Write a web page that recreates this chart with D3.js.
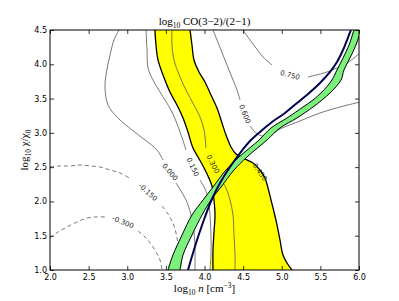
<!DOCTYPE html>
<html>
<head>
<meta charset="utf-8">
<script src="https://cdn.jsdelivr.net/npm/d3@7"></script>
<style>
  body { margin: 0; background: #fff; }
  svg { display: block; }
</style>
</head>
<body>
<div id="d3"></div>
<script>
// axis ticks
const xTicks = [2.0, 2.5, 3.0, 3.5, 4.0, 4.5, 5.0, 5.5, 6.0];
const yTicks = [1.0, 1.5, 2.0, 2.5, 3.0, 3.5, 4.0, 4.5];

// contour lines, [log n, log chi], split where the label sits
const cM300 = [
    [[2.000, 1.467], [2.104, 1.554], [2.220, 1.627], [2.350, 1.700], [2.479, 1.758], [2.583, 1.773], [2.725, 1.773]],
    [[3.139, 1.569], [3.230, 1.481], [3.307, 1.379], [3.372, 1.263], [3.424, 1.146], [3.450, 1.000]]
];
const cM150 = [
    [[2.000, 2.502], [2.129, 2.517], [2.259, 2.517], [2.388, 2.531], [2.518, 2.517], [2.647, 2.502], [2.777, 2.458], [2.906, 2.415], [3.049, 2.327]],
    [[3.450, 1.933], [3.528, 1.817], [3.592, 1.685], [3.631, 1.540], [3.657, 1.365], [3.670, 1.175], [3.683, 1.000]]
];
const c000 = [
    [[2.893, 4.500], [2.828, 4.354], [2.777, 4.135], [2.725, 3.844], [2.712, 3.654], [2.751, 3.406], [2.880, 3.217], [3.061, 3.042], [3.230, 2.896], [3.385, 2.750], [3.463, 2.604]],
    [[3.631, 2.269], [3.761, 2.021], [3.825, 1.802], [3.864, 1.554], [3.877, 1.292], [3.877, 1.000]]
];
const c150 = [
    [[3.243, 4.500], [3.256, 4.208], [3.269, 3.946], [3.333, 3.771], [3.424, 3.596], [3.579, 3.304], [3.683, 3.013], [3.761, 2.750]],
    [[3.942, 2.313], [3.994, 2.210], [4.045, 2.065], [4.071, 1.802], [4.084, 1.510], [4.084, 1.219], [4.071, 1.000]]
];
const c300 = [
    [[3.579, 4.500], [3.579, 4.281], [3.605, 4.063], [3.683, 3.815], [3.773, 3.596], [3.864, 3.406], [3.942, 3.231], [3.994, 3.042], [4.019, 2.779]],
    [[4.201, 2.342], [4.278, 2.196], [4.330, 2.021], [4.369, 1.802], [4.382, 1.510], [4.395, 1.219], [4.395, 1.000]]
];
const c600 = [
    [[4.110, 4.500], [4.188, 4.281], [4.265, 4.063], [4.343, 3.844], [4.421, 3.625], [4.460, 3.479]],
    [[4.589, 3.100], [4.654, 3.013], [4.744, 2.954], [4.848, 2.969], [4.977, 3.056], [5.236, 3.173], [5.495, 3.290], [5.754, 3.377], [6.013, 3.450]]
];
const c750 = [
    [[4.498, 4.500], [4.589, 4.354], [4.667, 4.237], [4.757, 4.106], [4.874, 3.990]],
    [[5.340, 3.815], [5.586, 3.888], [5.845, 4.019], [6.013, 4.165]]
];

// contour label text, place and slant
const labelText = ["-0.300", "-0.150", "0.000", "0.150", "0.300", "0.450", "0.600", "0.750"];
const labelPos = [[2.945, 1.700], [3.269, 2.137], [3.553, 2.429], [3.851, 2.502], [4.110, 2.546], [4.718, 2.429], [4.524, 3.275], [5.107, 3.844]];
const labelAngle = [22, 42, 50, 65, 62, 55, 68, 15];

// yellow band edges (the right edge is the 0.450 contour)
const yellowLeft = [[3.359, 4.500], [3.372, 4.281], [3.398, 4.063], [3.463, 3.844], [3.553, 3.596], [3.644, 3.406], [3.722, 3.217], [3.786, 3.013], [3.851, 2.779], [3.916, 2.648], [3.981, 2.517], [4.045, 2.371], [4.097, 2.225], [4.123, 2.021], [4.136, 1.802], [4.123, 1.554], [4.110, 1.292], [4.110, 1.000]];
const yellowRight = [[3.812, 4.500], [3.838, 4.281], [3.864, 4.063], [3.929, 3.888], [4.006, 3.742], [4.084, 3.552], [4.162, 3.363], [4.214, 3.188], [4.278, 2.969], [4.343, 2.794], [4.408, 2.692], [4.498, 2.633], [4.628, 2.560], [4.718, 2.458], [4.783, 2.342], [4.822, 2.196], [4.861, 2.021], [4.900, 1.846], [4.939, 1.656], [4.977, 1.438], [5.016, 1.219], [5.068, 1.102], [5.133, 1.000]];

// green band edges
const greenLeft = [[5.935, 4.500], [5.871, 4.281], [5.793, 4.092], [5.715, 3.917], [5.650, 3.771], [5.521, 3.596], [5.405, 3.479], [5.275, 3.377], [5.068, 3.217], [4.861, 3.071], [4.706, 2.896], [4.447, 2.648], [4.278, 2.458], [4.110, 2.210], [3.981, 2.021], [3.838, 1.802], [3.709, 1.510], [3.592, 1.219], [3.528, 1.000]];
const greenRight = [[6.026, 4.500], [5.961, 4.281], [5.883, 4.092], [5.806, 3.917], [5.767, 3.771], [5.638, 3.596], [5.521, 3.479], [5.405, 3.377], [5.197, 3.217], [4.977, 3.071], [4.809, 2.896], [4.550, 2.648], [4.382, 2.458], [4.214, 2.210], [4.084, 2.021], [3.968, 1.802], [3.838, 1.510], [3.722, 1.219], [3.683, 1.000]];

// navy curve
const navyLine = [[5.896, 4.500], [5.845, 4.354], [5.793, 4.208], [5.715, 4.033], [5.625, 3.888], [5.495, 3.727], [5.340, 3.567], [5.197, 3.435], [5.042, 3.290], [4.874, 3.158], [4.718, 3.013], [4.589, 2.881], [4.460, 2.706], [4.330, 2.502], [4.201, 2.269], [4.097, 2.035], [4.006, 1.773], [3.916, 1.481], [3.851, 1.248], [3.786, 1.000]];

function drawChart() {
    const W = 399, H = 301;
    const left = 50, right = 359, top = 30, bottom = 270;

    const x = d3.scaleLinear().domain([2, 6]).range([left, right]);
    const y = d3.scaleLinear().domain([1, 4.5]).range([bottom, top]);

    const svg = d3.select("#d3").append("svg")
        .attr("width", W)
        .attr("height", H);

    svg.append("clipPath").attr("id", "plotclip")
        .append("rect")
        .attr("x", left).attr("y", top)
        .attr("width", right - left).attr("height", bottom - top);

    const plot = svg.append("g").attr("clip-path", "url(#plotclip)");

    const line = d3.line().x(d => x(d[0])).y(d => y(d[1])).curve(d3.curveCatmullRom);

    // yellow band
    const band = (a, b) => {
        const pts = a.concat(b.slice().reverse());
        return d3.line().x(d => x(d[0])).y(d => y(d[1])).curve(d3.curveCatmullRomClosed)(pts);
    };
    plot.append("path")
        .attr("d", band(yellowLeft, yellowRight))
        .style("fill", "#ffff00")
        .style("stroke", "none");

    // contour lines
    const solid = [c000, c150, c300, c600, c750];
    const dashed = [cM300, cM150];
    solid.forEach(c => c.forEach(seg => {
        plot.append("path")
            .attr("d", line(seg))
            .style("fill", "none")
            .style("stroke", "#555")
            .style("stroke-width", 0.8);
    }));
    dashed.forEach(c => c.forEach(seg => {
        plot.append("path")
            .attr("d", line(seg))
            .style("fill", "none")
            .style("stroke", "#555")
            .style("stroke-width", 0.8)
            .style("stroke-dasharray", "4,3");
    }));

    // yellow band edges
    [yellowLeft, yellowRight].forEach(edge => {
        plot.append("path")
            .attr("d", line(edge))
            .style("fill", "none")
            .style("stroke", "#000")
            .style("stroke-width", 1.3);
    });

    // contour labels
    labelText.forEach((t, i) => {
        plot.append("text")
            .attr("transform", `translate(${x(labelPos[i][0])},${y(labelPos[i][1])}) rotate(${labelAngle[i]})`)
            .attr("text-anchor", "middle")
            .attr("dy", "0.35em")
            .style("font-family", "DejaVu Sans")
            .style("font-size", "7px")
            .style("fill", "#222")
            .text(t);
    });

    // green band
    plot.append("path")
        .attr("d", band(greenLeft, greenRight))
        .style("fill", "#7cf07c")
        .style("stroke", "none");
    [greenLeft, greenRight].forEach(edge => {
        plot.append("path")
            .attr("d", line(edge))
            .style("fill", "none")
            .style("stroke", "#000")
            .style("stroke-width", 1);
    });

    // navy curve
    plot.append("path")
        .attr("d", line(navyLine))
        .style("fill", "none")
        .style("stroke", "#000050")
        .style("stroke-width", 2);

    // axes, ticks pointing inward
    const styleAxis = g => {
        g.select(".domain").remove();
        g.selectAll("line").style("stroke", "#000").style("stroke-width", 0.8);
        g.selectAll("text")
            .style("font-family", "DejaVu Sans")
            .style("font-size", "8px")
            .style("fill", "#000");
    };

    svg.append("g")
        .attr("transform", `translate(0,${bottom})`)
        .call(d3.axisBottom(x).tickValues(xTicks).tickFormat(d3.format(".1f")).tickSizeInner(-4).tickSizeOuter(0).tickPadding(4))
        .call(styleAxis);
    svg.append("g")
        .attr("transform", `translate(0,${top})`)
        .call(d3.axisTop(x).tickValues(xTicks).tickFormat("").tickSizeInner(-4).tickSizeOuter(0))
        .call(styleAxis);
    svg.append("g")
        .attr("transform", `translate(${left},0)`)
        .call(d3.axisLeft(y).tickValues(yTicks).tickFormat(d3.format(".1f")).tickSizeInner(-4).tickSizeOuter(0).tickPadding(3))
        .call(styleAxis);
    svg.append("g")
        .attr("transform", `translate(${right},0)`)
        .call(d3.axisRight(y).tickValues(yTicks).tickFormat("").tickSizeInner(-4).tickSizeOuter(0))
        .call(styleAxis);

    // frame
    svg.append("rect")
        .attr("x", left).attr("y", top)
        .attr("width", right - left).attr("height", bottom - top)
        .style("fill", "none")
        .style("stroke", "#000")
        .style("stroke-width", 1);

    // title and axis labels
    const serif = "Liberation Serif, DejaVu Serif, serif";

    const title = svg.append("text")
        .attr("x", (left + right) / 2)
        .attr("y", 25)
        .attr("text-anchor", "middle")
        .style("font-family", serif)
        .style("font-size", "11px");
    title.append("tspan").text("log");
    title.append("tspan").attr("dy", 2.5).style("font-size", "7.5px").text("10");
    title.append("tspan").attr("dy", -2.5).text(" CO(3\u22122)/(2\u22121)");

    const xl = svg.append("text")
        .attr("x", (left + right) / 2)
        .attr("y", 292)
        .attr("text-anchor", "middle")
        .style("font-family", serif)
        .style("font-size", "11px");
    xl.append("tspan").text("log");
    xl.append("tspan").attr("dy", 2.5).style("font-size", "7.5px").text("10");
    xl.append("tspan").attr("dy", -2.5).text(" ");
    xl.append("tspan").style("font-style", "italic").text("n");
    xl.append("tspan").text(" [cm");
    xl.append("tspan").attr("dy", -4).style("font-size", "7.5px").text("\u22123");
    xl.append("tspan").attr("dy", 4).text("]");

    const yl = svg.append("text")
        .attr("transform", `translate(28,${(top + bottom) / 2}) rotate(-90)`)
        .attr("text-anchor", "middle")
        .style("font-family", serif)
        .style("font-size", "11px");
    yl.append("tspan").text("log");
    yl.append("tspan").attr("dy", 2.5).style("font-size", "7.5px").text("10");
    yl.append("tspan").attr("dy", -2.5).text(" \u03c7/\u03c7");
    yl.append("tspan").attr("dy", 2.5).style("font-size", "7.5px").text("0");
}

drawChart();
</script>
</body>
</html>
